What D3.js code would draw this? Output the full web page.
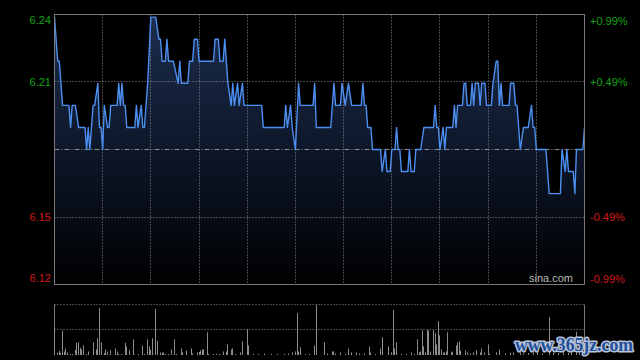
<!DOCTYPE html>
<html><head><meta charset="utf-8">
<script src="https://cdn.jsdelivr.net/npm/d3@7"></script>
<style>html,body{margin:0;padding:0;background:#000;}svg{display:block}</style>
</head><body>
<svg id="c" width="640" height="360"></svg>
<script>
// ---- data (minutes from 09:30, HK session: 330 trading minutes) ----
const minutes = [0,2,3,5,9,10,11,13,15,19,20,21,22,24,25,27,28,29,30,31,33,34,35,39,40,41,42,43,44,45,50,51,52,54,55,56,58,60,63,65,66,67,69,70,71,74,77,78,79,83,84,86,87,89,90,99,100,102,103,105,106,108,110,111,112,114,115,117,118,129,130,143,144,145,147,148,150,152,153,161,162,163,172,174,175,178,179,181,183,185,191,192,193,194,195,197,198,203,204,206,207,209,210,212,213,214,215,216,220,221,222,224,225,228,230,236,237,238,239,240,242,243,244,248,249,250,251,254,255,256,257,259,260,261,262,264,265,266,268,269,272,273,275,276,277,278,279,283,284,286,287,288,290,292,295,297,298,299,300,306,308,315,316,318,319,320,323,324,325,329,330];
const prices = [6.24,6.22,6.22,6.20,6.20,6.19,6.20,6.20,6.19,6.19,6.18,6.19,6.18,6.20,6.20,6.21,6.19,6.19,6.18,6.20,6.19,6.19,6.20,6.20,6.21,6.20,6.21,6.20,6.20,6.19,6.19,6.20,6.19,6.20,6.19,6.19,6.21,6.24,6.24,6.23,6.23,6.22,6.22,6.23,6.22,6.22,6.21,6.22,6.21,6.21,6.22,6.22,6.23,6.23,6.22,6.22,6.23,6.23,6.22,6.22,6.23,6.21,6.20,6.21,6.20,6.21,6.20,6.21,6.20,6.20,6.19,6.19,6.20,6.19,6.20,6.19,6.18,6.21,6.20,6.20,6.21,6.19,6.19,6.21,6.20,6.20,6.21,6.20,6.21,6.20,6.20,6.21,6.20,6.20,6.19,6.19,6.18,6.18,6.17,6.18,6.17,6.17,6.18,6.18,6.19,6.18,6.18,6.17,6.17,6.18,6.17,6.17,6.18,6.18,6.19,6.19,6.20,6.19,6.19,6.18,6.19,6.18,6.19,6.19,6.20,6.19,6.20,6.20,6.21,6.21,6.20,6.20,6.21,6.20,6.21,6.21,6.20,6.21,6.21,6.20,6.20,6.21,6.22,6.22,6.20,6.21,6.20,6.20,6.21,6.21,6.20,6.20,6.18,6.19,6.19,6.20,6.19,6.19,6.18,6.18,6.16,6.16,6.18,6.17,6.18,6.17,6.17,6.16,6.18,6.18,6.19];
const volMinutes = [0,2,3,4,5,6,7,8,10,11,13,14,15,16,17,18,20,21,24,26,27,28,29,31,32,33,35,38,39,40,42,44,45,47,49,50,52,55,56,58,59,60,61,63,64,66,67,68,69,71,73,75,76,79,80,82,85,86,89,90,91,92,93,95,96,99,101,103,105,107,108,110,111,113,116,117,120,121,124,127,131,135,139,143,146,148,150,151,152,153,156,159,162,163,168,170,173,174,175,178,181,183,185,188,190,193,196,197,200,203,204,208,210,211,212,213,216,219,222,224,226,227,228,229,230,231,232,233,234,236,237,238,239,240,241,242,243,244,245,247,248,250,251,252,253,256,257,259,261,263,265,266,268,270,271,275,277,281,284,286,290,292,295,298,301,304,308,311,314,317,320,322,325,327,329];
const volValues = [53,5,8,4,48,7,13,5,2,2,10,24,25,14,11,19,2,7,25,11,33,93,25,4,11,7,9,13,7,2,2,24,17,9,31,1,2,19,2,31,17,10,33,91,28,5,5,5,2,2,11,31,2,13,5,9,13,3,5,6,9,11,11,45,2,2,2,2,7,7,21,11,13,2,5,27,51,19,2,2,3,2,2,2,3,5,7,83,7,15,2,2,19,99,25,3,7,7,3,5,2,13,5,5,3,3,17,5,2,13,35,17,5,89,13,25,2,2,5,2,31,5,7,49,17,5,49,49,7,49,43,21,67,39,11,5,5,7,45,7,5,19,25,27,9,9,5,3,5,9,5,13,5,21,2,5,11,3,5,5,5,3,4,5,6,3,75,5,4,6,4,5,46,6,8];
const prevClose = 6.18;
const priceDomain = [6.1188, 6.2412];
const volDomain = [0, 100];
const sessionLength = 330;
const gridMinutes = [30,60,90,120,150,180,210,240,270,300];
const leftLabels = ['6.24','6.21','6.15','6.12'];
const rightLabels = ['+0.99%','+0.49%','-0.49%','-0.99%'];
const labelQuarters = [4,3,1,0];

// ---- drawing ----
const svg = d3.select('#c');
const L = 54.5, R = 584.5, T = 14.5, B = 284.5;
const VT = 304.5, VB = 355;
const x = d3.scaleLinear().domain([0, sessionLength]).range([L, R]);
const y = d3.scaleLinear().domain(priceDomain).range([B, T]);
const vy = d3.scaleLinear().domain(volDomain).range([VB, VT]);
const crisp = v => Math.round(v) + 0.5;

const defs = svg.append('defs');
const grad = defs.append('linearGradient').attr('id','fillG')
  .attr('gradientUnits','userSpaceOnUse').attr('x1',0).attr('y1',T).attr('x2',0).attr('y2',B);
grad.append('stop').attr('offset',0).attr('stop-color','#1d2d4e');
grad.append('stop').attr('offset',0.55).attr('stop-color','#0c1526');
grad.append('stop').attr('offset',1).attr('stop-color','#000000');

const pts = minutes.map((m,i)=>[m, prices[i]]);
svg.append('path').datum(pts)
  .attr('d', d3.area().x(d=>x(d[0])).y0(B).y1(d=>y(d[1])))
  .attr('fill','url(#fillG)');

const gridColor = '#8a8a8a';
// vertical grid
svg.append('g').selectAll('line').data(gridMinutes).join('line')
  .attr('x1', d=>crisp(x(d)-0.5)).attr('x2', d=>crisp(x(d)-0.5))
  .attr('y1', T).attr('y2', B)
  .attr('stroke', gridColor).attr('stroke-width',1).attr('stroke-dasharray','1,2');
// horizontal grid (quarters 1 and 3)
const qVal = q => priceDomain[0] + (priceDomain[1]-priceDomain[0])*q/4;
svg.append('g').selectAll('line').data([1,3]).join('line')
  .attr('x1', L).attr('x2', R)
  .attr('y1', d=>crisp(y(qVal(d))-0.5)).attr('y2', d=>crisp(y(qVal(d))-0.5))
  .attr('stroke', gridColor).attr('stroke-width',1).attr('stroke-dasharray','1,2');
// previous close line
svg.append('line').attr('x1',L).attr('x2',R)
  .attr('y1', crisp(y(prevClose)-0.5)).attr('y2', crisp(y(prevClose)-0.5))
  .attr('stroke', gridColor).attr('stroke-width',1).attr('stroke-dasharray','5,2,1,2');

// price line
svg.append('path').datum(pts)
  .attr('d', d3.line().x(d=>x(d[0])).y(d=>y(d[1])))
  .attr('fill','none').attr('stroke','#4c8ff0').attr('stroke-width',1.4)
  .attr('stroke-linejoin','round');

// frame
svg.append('rect').attr('x',L).attr('y',T).attr('width',R-L).attr('height',B-T)
  .attr('fill','none').attr('stroke','#7a7a7a').attr('stroke-width',1);

// labels
const font = 'Arial, "Liberation Sans", sans-serif';
const labelY = q => q===4 ? y(qVal(q))+6 : (q===0 ? y(qVal(q))-6 : y(qVal(q)));
svg.append('g').selectAll('text').data(labelQuarters).join('text')
  .attr('x', 51).attr('y', d=>labelY(d)).attr('dy','0.36em')
  .attr('text-anchor','end').attr('font-family',font).attr('font-size',11)
  .attr('fill', d=> d>2 ? '#13a313' : '#d01818')
  .text((d,i)=>leftLabels[i]);
svg.append('g').selectAll('text').data(labelQuarters).join('text')
  .attr('x', 590).attr('y', d=>labelY(d)+0.5).attr('dy','0.36em')
  .attr('text-anchor','start').attr('font-family',font).attr('font-size',11)
  .attr('fill', d=> d>2 ? '#13a313' : '#d01818')
  .text((d,i)=>rightLabels[i]);

svg.append('text').attr('x',573).attr('y',282).attr('text-anchor','end')
  .attr('font-family',font).attr('font-size',11).attr('fill','#b8b8b8').text('sina.com');

// volume panel
svg.append('g').selectAll('line').data([VT, crisp(vy(50)-0.5)]).join('line')
  .attr('x1',L).attr('x2',R).attr('y1',d=>d).attr('y2',d=>d)
  .attr('stroke',gridColor).attr('stroke-width',1).attr('stroke-dasharray','1,2');
svg.append('line').attr('x1',L).attr('x2',L).attr('y1',VT).attr('y2',VB).attr('stroke','#7a7a7a');
svg.append('line').attr('x1',R).attr('x2',R).attr('y1',VT).attr('y2',VB).attr('stroke','#7a7a7a');
const vols = volMinutes.map((m,i)=>[m, volValues[i]]);
svg.append('g').selectAll('rect').data(vols).join('rect')
  .attr('x', d=>Math.floor(x(d[0]))).attr('width',1)
  .attr('y', d=>vy(d[1])).attr('height', d=>VB - vy(d[1]))
  .attr('fill','#8c8c8c');

// watermark
svg.append('text').attr('x',515).attr('y',351)
  .attr('font-family','"Liberation Serif", "DejaVu Serif", serif').attr('font-weight','bold')
  .attr('font-size',18).attr('textLength',118).attr('lengthAdjust','spacingAndGlyphs')
  .attr('fill','#1f4f9c').attr('stroke','#b9c4d8').attr('stroke-width',3)
  .attr('paint-order','stroke').attr('stroke-linejoin','round')
  .text('www.365jz.com');
</script>
</body></html>
